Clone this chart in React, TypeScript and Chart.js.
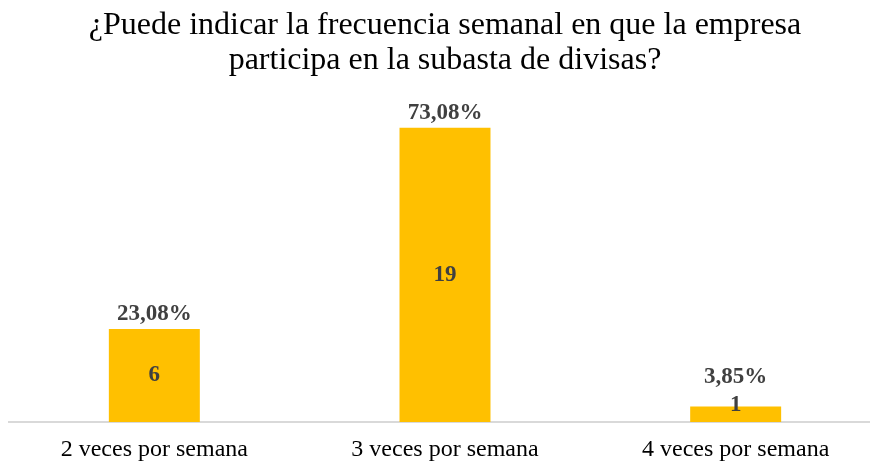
import React, { useEffect, useRef } from "react";
import { Chart, registerables } from "chart.js";

Chart.register(...registerables);

const categories = ["2 veces por semana", "3 veces por semana", "4 veces por semana"];
const counts = [6, 19, 1];
const percentLabels = ["23,08%", "73,08%", "3,85%"];
const titleLines = [
  "¿Puede indicar la frecuencia semanal en que la empresa",
  "participa en la subasta de divisas?",
];

const labelPlugin = {
  id: "barLabels",
  afterDatasetsDraw(chart: any) {
    const ctx = chart.ctx;
    const meta = chart.getDatasetMeta(0);
    ctx.save();
    ctx.fillStyle = "#404040";
    ctx.font = "bold 23px 'Liberation Serif', 'Times New Roman', serif";
    ctx.textAlign = "center";
    ctx.textBaseline = "middle";
    meta.data.forEach((bar: any, i: number) => {
      const top = bar.y;
      const base = bar.base;
      const countY = Math.min((top + base) / 2, base - 17);
      ctx.fillText(String(counts[i]), bar.x, countY);
      const pctY = Math.min(top - 15, countY - 28);
      ctx.fillText(percentLabels[i], bar.x, pctY);
    });
    ctx.restore();
  },
};

export default function App() {
  const ref = useRef<HTMLCanvasElement | null>(null);
  useEffect(() => {
    if (!ref.current) return;
    const chart = new Chart(ref.current, {
      type: "bar",
      data: {
        labels: categories,
        datasets: [
          {
            data: counts,
            backgroundColor: "#FFC000",
            categoryPercentage: 1,
            barPercentage: 0.313,
          },
        ],
      },
      options: {
        animation: false,
        responsive: false,
        maintainAspectRatio: false,
        layout: { padding: { left: 9, right: 1, top: 0, bottom: 1 } },
        plugins: {
          legend: { display: false },
          tooltip: { enabled: false },
          title: {
            display: true,
            text: titleLines,
            color: "#000000",
            font: { family: "'Liberation Serif', 'Times New Roman', serif", size: 32, weight: "normal", lineHeight: 1.09 },
            padding: { top: 8, bottom: 34.6 },
          },
        },
        scales: {
          x: {
            grid: { display: false, drawTicks: false },
            border: { display: true, color: "#d9d9d9", width: 2 },
            ticks: {
              color: "#000000",
              padding: 16,
              font: { family: "'Liberation Serif', 'Times New Roman', serif", size: 24, lineHeight: 1.0 },
            },
            afterFit: (scale: any) => {
              scale.height = 40;
            },
          },
          y: {
            display: false,
            min: 0,
            max: 20,
          },
        },
      },
      plugins: [labelPlugin],
    });
    return () => chart.destroy();
  }, []);
  return (
    <div style={{ position: "fixed", left: 0, top: 0, width: 870, height: 463, overflow: "hidden", background: "#fff" }}>
      <canvas ref={ref} width={882} height={463} style={{ display: "block", width: 882, height: 463 }} />
    </div>
  );
}
